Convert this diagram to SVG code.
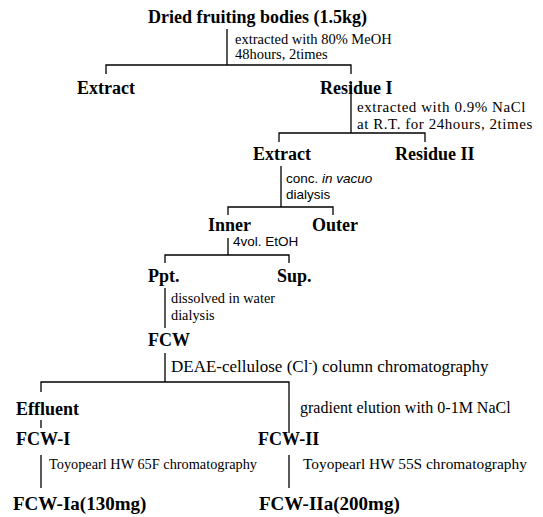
<svg xmlns="http://www.w3.org/2000/svg" width="543" height="517" viewBox="0 0 543 517">
<style>
.n{font-family:"Liberation Serif","Times New Roman",serif;font-weight:bold;font-size:18px;fill:#000}
.l{font-family:"Liberation Serif","Times New Roman",serif;font-size:14.5px;fill:#000}
.s{font-family:"Liberation Sans",Arial,sans-serif;font-size:13.5px;fill:#000}
.w{font-size:15px;letter-spacing:0.55px}
.c{fill:none;stroke:#000;stroke-width:1.3}
</style>
<rect width="543" height="517" fill="#fff"/>
<g id="connectors">
<path class="c" d="M227,29 V65 M106,74 V65 H351 V74"/>
<path class="c" d="M351,82 V133 M279,142 V133 H425 V142"/>
<path class="c" d="M281,166 V207 M228,215 V207 H333 V215"/>
<path class="c" d="M228,238 V255 M165,263 V255 H289 V263"/>
<path class="c" d="M165,288 V328"/>
<path class="c" d="M165,353 V382 M41,392 V382 H289 V433"/>
<path class="c" d="M41,420 V428"/>
<path class="c" d="M41,455 V488"/>
<path class="c" d="M289,455 V488"/>
</g>
<g id="edge-labels">
<text class="l" x="235" y="44">extracted with 80% MeOH</text>
<text class="l" x="235" y="59">48hours, 2times</text>
<text class="l w" x="357" y="112">extracted with 0.9% NaCl</text>
<text class="l w" x="357" y="129">at R.T. for 24hours, 2times</text>
<text class="s" x="286" y="183">conc. <tspan font-style="italic">in vacuo</tspan></text>
<text class="s" x="286" y="199">dialysis</text>
<text class="s" x="233" y="246">4vol. EtOH</text>
<text class="l" x="171" y="303" style="font-size:14.3px">dissolved in water</text>
<text class="l" x="171" y="320" style="font-size:14.3px">dialysis</text>
<text class="l" x="171" y="372" style="font-size:17px">DEAE-cellulose (Cl<tspan font-size="11" dy="-6">-</tspan><tspan dy="6">) column chromatography</tspan></text>
<text class="l" x="300" y="413" style="font-size:16px">gradient elution with 0-1M NaCl</text>
<text class="l" x="49" y="469" style="font-size:14.3px">Toyopearl HW 65F chromatography</text>
<text class="l" x="303" y="469" style="font-size:15.4px">Toyopearl HW 55S chromatography</text>
</g>
<g id="dried"><text class="n" x="148" y="23">Dried fruiting bodies (1.5kg)</text></g>
<g id="extract1"><text class="n" x="77" y="94">Extract</text></g>
<g id="residue1"><text class="n" x="320" y="94">Residue I</text></g>
<g id="extract2"><text class="n" x="253" y="160">Extract</text></g>
<g id="residue2"><text class="n" x="395" y="160">Residue II</text></g>
<g id="inner"><text class="n" x="208" y="231">Inner</text></g>
<g id="outer"><text class="n" x="312" y="231">Outer</text></g>
<g id="ppt"><text class="n" x="148" y="282">Ppt.</text></g>
<g id="sup"><text class="n" x="277" y="282">Sup.</text></g>
<g id="fcw"><text class="n" x="148" y="346">FCW</text></g>
<g id="effluent"><text class="n" x="16" y="415">Effluent</text></g>
<g id="fcw1"><text class="n" x="16" y="445">FCW-I</text></g>
<g id="fcw2"><text class="n" x="258" y="445">FCW-II</text></g>
<g id="fcw1a"><text class="n" x="13" y="510" style="font-size:19px">FCW-Ia(130mg)</text></g>
<g id="fcw2a"><text class="n" x="259" y="510" style="font-size:19px">FCW-IIa(200mg)</text></g>
</svg>
